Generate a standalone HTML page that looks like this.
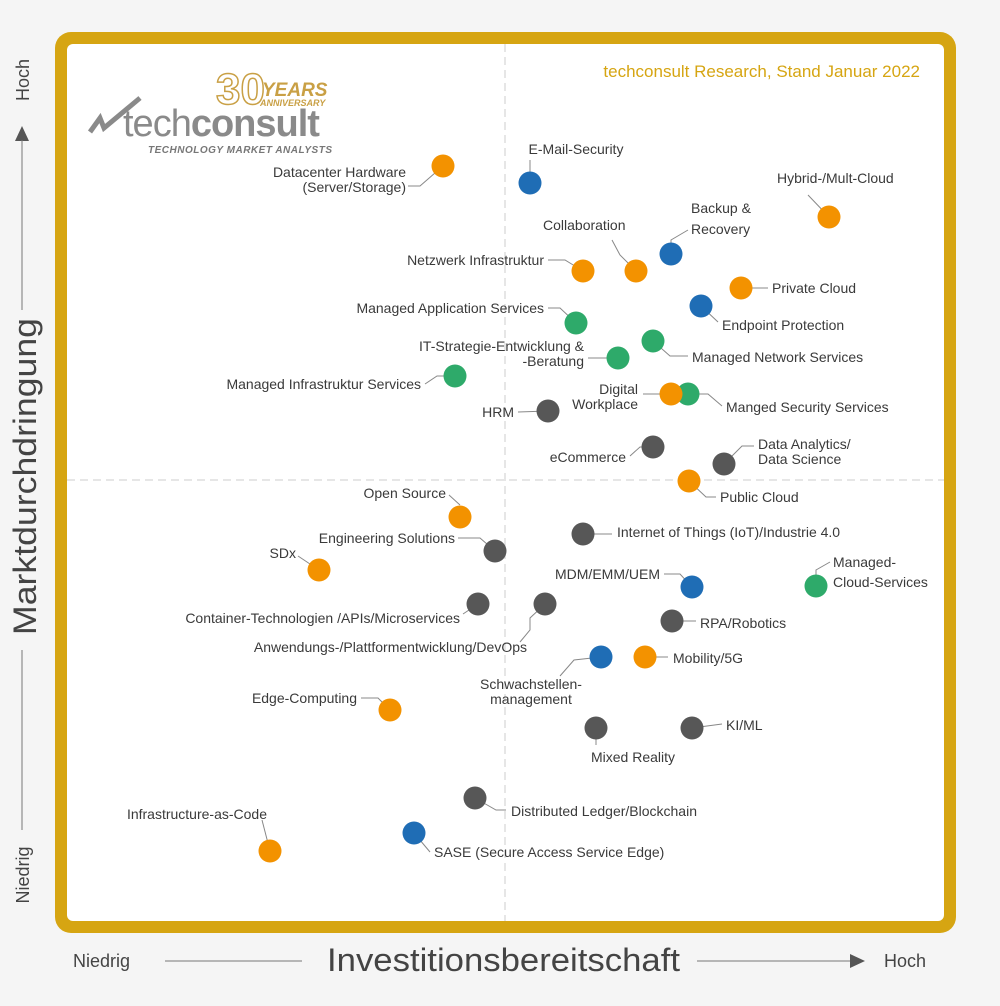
<!DOCTYPE html>
<html><head><meta charset="utf-8"><style>
html,body{margin:0;padding:0;background:#f5f5f5;}
svg{display:block;font-family:"Liberation Sans",sans-serif;}
</style></head><body>
<svg width="1000" height="1006" viewBox="0 0 1000 1006" xmlns="http://www.w3.org/2000/svg">
<rect width="1000" height="1006" fill="#f5f5f5"/>
<rect x="55" y="32" width="901" height="901" rx="16" fill="#d6a512"/>
<rect x="67" y="44" width="877" height="877" rx="6" fill="#fff"/>
<line x1="505" y1="44" x2="505" y2="921" stroke="#ddd" stroke-width="1.5" stroke-dasharray="8,5"/>
<line x1="67" y1="480" x2="944" y2="480" stroke="#ddd" stroke-width="1.5" stroke-dasharray="8,5"/>
<text x="920" y="77" text-anchor="end" font-size="17" fill="#d6a512">techconsult Research, Stand Januar 2022</text>
<!-- logo -->
<text x="216" y="104" font-size="44" fill="none" stroke="#c9a045" stroke-width="1.5" font-weight="bold">30</text>
<text x="262" y="96" font-size="19" font-weight="bold" font-style="italic" fill="#c9a045">YEARS</text>
<text x="260" y="106" font-size="9" font-weight="bold" font-style="italic" fill="#c9a045">ANNIVERSARY</text>
<path d="M90 132 L100 118 L104 128 L140 98" stroke="#8a8a8a" stroke-width="5" fill="none"/>
<text x="123" y="136" font-size="38" fill="#8a8a8a" letter-spacing="-1">tech<tspan font-weight="bold">consult</tspan></text>
<text x="148" y="153" font-size="10" font-weight="bold" font-style="italic" fill="#777" letter-spacing="0.5">TECHNOLOGY MARKET ANALYSTS</text>
<!-- leaders -->
<g stroke="#888" stroke-width="1" fill="none">
<path d="M408 186 L420 186 L443 166"/>
<path d="M530 160 L530 183"/>
<path d="M808 195 L829 217"/>
<path d="M688 230 L671 240 L671 254"/>
<path d="M612 240 L620 255 L636 271"/>
<path d="M548 260 L565 260 L583 271"/>
<path d="M741 288 L768 288"/>
<path d="M701 306 L718 322"/>
<path d="M548 308 L560 308 L576 323"/>
<path d="M653 341 L670 356 L688 356"/>
<path d="M588 358 L618 358"/>
<path d="M425 384 L437 376 L455 376"/>
<path d="M643 394 L671 394"/>
<path d="M688 394 L708 394 L722 406"/>
<path d="M518 412 L548 411"/>
<path d="M630 456 L640 447 L653 447"/>
<path d="M724 464 L742 446 L754 446"/>
<path d="M689 481 L706 497 L716 497"/>
<path d="M449 495 L460 505"/>
<path d="M583 534 L612 534"/>
<path d="M458 538 L480 538 L495 551"/>
<path d="M298 556 L319 570"/>
<path d="M664 574 L680 574 L692 587"/>
<path d="M816 586 L816 570 L830 562"/>
<path d="M463 614 L478 604"/>
<path d="M520 642 L530 630 L530 618 L545 604"/>
<path d="M672 621 L696 621"/>
<path d="M560 676 L574 660 L601 657"/>
<path d="M645 657 L668 657"/>
<path d="M361 698 L378 698 L390 710"/>
<path d="M596 728 L596 745"/>
<path d="M692 728 L722 724"/>
<path d="M475 798 L496 810 L506 810"/>
<path d="M414 833 L430 852"/>
<path d="M262 820 L270 851"/>
</g>
<!-- dots -->
<g>
<circle cx="443" cy="166" r="11.5" fill="#f39200"/>
<circle cx="530" cy="183" r="11.5" fill="#1f6db5"/>
<circle cx="829" cy="217" r="11.5" fill="#f39200"/>
<circle cx="671" cy="254" r="11.5" fill="#1f6db5"/>
<circle cx="636" cy="271" r="11.5" fill="#f39200"/>
<circle cx="583" cy="271" r="11.5" fill="#f39200"/>
<circle cx="741" cy="288" r="11.5" fill="#f39200"/>
<circle cx="701" cy="306" r="11.5" fill="#1f6db5"/>
<circle cx="576" cy="323" r="11.5" fill="#2eaa6a"/>
<circle cx="653" cy="341" r="11.5" fill="#2eaa6a"/>
<circle cx="618" cy="358" r="11.5" fill="#2eaa6a"/>
<circle cx="455" cy="376" r="11.5" fill="#2eaa6a"/>
<circle cx="688" cy="394" r="11.5" fill="#2eaa6a"/>
<circle cx="671" cy="394" r="11.5" fill="#f39200"/>
<circle cx="548" cy="411" r="11.5" fill="#575757"/>
<circle cx="653" cy="447" r="11.5" fill="#575757"/>
<circle cx="724" cy="464" r="11.5" fill="#575757"/>
<circle cx="689" cy="481" r="11.5" fill="#f39200"/>
<circle cx="460" cy="517" r="11.5" fill="#f39200"/>
<circle cx="583" cy="534" r="11.5" fill="#575757"/>
<circle cx="495" cy="551" r="11.5" fill="#575757"/>
<circle cx="319" cy="570" r="11.5" fill="#f39200"/>
<circle cx="692" cy="587" r="11.5" fill="#1f6db5"/>
<circle cx="816" cy="586" r="11.5" fill="#2eaa6a"/>
<circle cx="478" cy="604" r="11.5" fill="#575757"/>
<circle cx="545" cy="604" r="11.5" fill="#575757"/>
<circle cx="672" cy="621" r="11.5" fill="#575757"/>
<circle cx="601" cy="657" r="11.5" fill="#1f6db5"/>
<circle cx="645" cy="657" r="11.5" fill="#f39200"/>
<circle cx="390" cy="710" r="11.5" fill="#f39200"/>
<circle cx="596" cy="728" r="11.5" fill="#575757"/>
<circle cx="692" cy="728" r="11.5" fill="#575757"/>
<circle cx="475" cy="798" r="11.5" fill="#575757"/>
<circle cx="414" cy="833" r="11.5" fill="#1f6db5"/>
<circle cx="270" cy="851" r="11.5" fill="#f39200"/>
</g>
<!-- labels -->
<g font-size="14" fill="#3a3a3a">
<text x="406" y="177" text-anchor="end">Datacenter Hardware</text>
<text x="406" y="192" text-anchor="end">(Server/Storage)</text>
<text x="576" y="154" text-anchor="middle">E-Mail-Security</text>
<text x="777" y="183">Hybrid-/Mult-Cloud</text>
<text x="691" y="213">Backup &amp;</text>
<text x="691" y="234">Recovery</text>
<text x="543" y="230">Collaboration</text>
<text x="544" y="265" text-anchor="end">Netzwerk Infrastruktur</text>
<text x="772" y="293">Private Cloud</text>
<text x="722" y="330">Endpoint Protection</text>
<text x="544" y="313" text-anchor="end">Managed Application Services</text>
<text x="692" y="362">Managed Network Services</text>
<text x="584" y="351" text-anchor="end">IT-Strategie-Entwicklung &amp;</text>
<text x="584" y="366" text-anchor="end">-Beratung</text>
<text x="421" y="389" text-anchor="end">Managed Infrastruktur Services</text>
<text x="638" y="394" text-anchor="end">Digital</text>
<text x="638" y="409" text-anchor="end">Workplace</text>
<text x="726" y="412">Manged Security Services</text>
<text x="514" y="417" text-anchor="end">HRM</text>
<text x="626" y="462" text-anchor="end">eCommerce</text>
<text x="758" y="449">Data Analytics/</text>
<text x="758" y="464">Data Science</text>
<text x="720" y="502">Public Cloud</text>
<text x="446" y="498" text-anchor="end">Open Source</text>
<text x="617" y="537">Internet of Things (IoT)/Industrie 4.0</text>
<text x="455" y="543" text-anchor="end">Engineering Solutions</text>
<text x="296" y="558" text-anchor="end">SDx</text>
<text x="660" y="579" text-anchor="end">MDM/EMM/UEM</text>
<text x="833" y="567">Managed-</text>
<text x="833" y="587">Cloud-Services</text>
<text x="460" y="623" text-anchor="end">Container-Technologien /APIs/Microservices</text>
<text x="527" y="652" text-anchor="end">Anwendungs-/Plattformentwicklung/DevOps</text>
<text x="700" y="628">RPA/Robotics</text>
<text x="531" y="689" text-anchor="middle">Schwachstellen-</text>
<text x="531" y="704" text-anchor="middle">management</text>
<text x="673" y="663">Mobility/5G</text>
<text x="357" y="703" text-anchor="end">Edge-Computing</text>
<text x="591" y="762">Mixed Reality</text>
<text x="726" y="730">KI/ML</text>
<text x="511" y="816">Distributed Ledger/Blockchain</text>
<text x="434" y="857">SASE (Secure Access Service Edge)</text>
<text x="267" y="819" text-anchor="end">Infrastructure-as-Code</text>
</g>
<!-- y axis -->
<text transform="translate(29,80) rotate(-90)" text-anchor="middle" font-size="18" fill="#444">Hoch</text>
<path d="M15 141 L22 126 L29 141 Z" fill="#555"/>
<line x1="22" y1="140" x2="22" y2="310" stroke="#777" stroke-width="1"/>
<text transform="translate(36,318) rotate(-90)" x="-317" y="0" font-size="32" fill="#444" textLength="317" lengthAdjust="spacingAndGlyphs">Marktdurchdringung</text>
<line x1="22" y1="650" x2="22" y2="830" stroke="#777" stroke-width="1"/>
<text transform="translate(29,875) rotate(-90)" text-anchor="middle" font-size="18" fill="#444">Niedrig</text>
<!-- x axis -->
<text x="73" y="967" font-size="18" fill="#444">Niedrig</text>
<line x1="165" y1="961" x2="302" y2="961" stroke="#777" stroke-width="1"/>
<text x="327" y="971" font-size="32" fill="#444" textLength="353" lengthAdjust="spacingAndGlyphs">Investitionsbereitschaft</text>
<line x1="697" y1="961" x2="852" y2="961" stroke="#777" stroke-width="1"/>
<path d="M850 954 L865 961 L850 968 Z" fill="#555"/>
<text x="884" y="967" font-size="18" fill="#444">Hoch</text>
</svg>
</body></html>
